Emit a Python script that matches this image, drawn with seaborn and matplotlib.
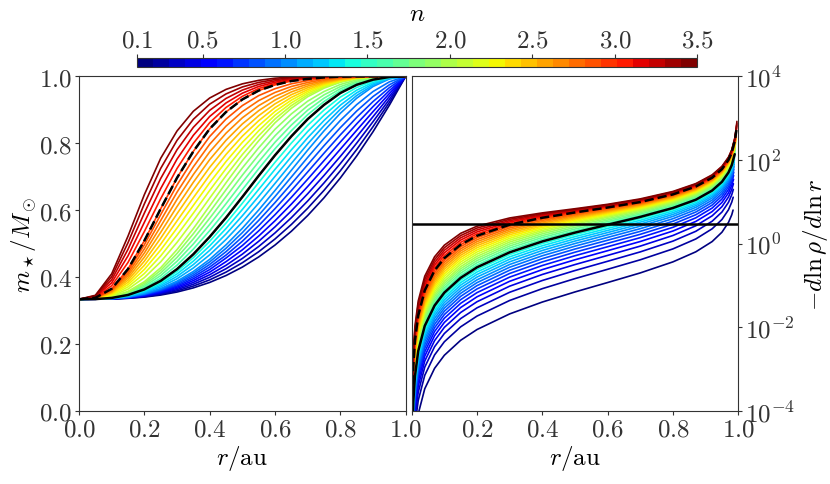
import matplotlib
matplotlib.use("Agg")
import matplotlib.pyplot as plt
import numpy as np
import pandas as pd
import seaborn as sns
from matplotlib.cm import ScalarMappable
from matplotlib.colors import ListedColormap, Normalize
from matplotlib.ticker import FuncFormatter, NullLocator

# %%
# values

n_values = [0.1, 0.2, 0.3, 0.4, 0.5, 0.6, 0.7, 0.8, 0.9, 1.0,
            1.1, 1.2, 1.3, 1.4, 1.5, 1.6, 1.7, 1.8, 1.9, 2.0,
            2.1, 2.2, 2.3, 2.4, 2.5, 2.6, 2.7, 2.8, 2.9, 3.0,
            3.1, 3.2, 3.3, 3.4, 3.5]
n_solid = 1.5
n_dashed = 3.0
cbar_ticks = [0.1, 0.5, 1.0, 1.5, 2.0, 2.5, 3.0, 3.5]

M_CORE = 0.3333  # m at r = 0, left panel

# left panel: envelope mass fraction (0 at r=0, 1 at r=1) per n
r_mass = [0.0, 0.05, 0.1, 0.15, 0.2, 0.25, 0.3, 0.35, 0.4, 0.45, 0.5,
          0.55, 0.6, 0.65, 0.7, 0.75, 0.8, 0.85, 0.9, 0.95, 1.0]
env_mass = [
    [0, .0002, .0012, .0041, .0097, .0189, .0324, .0511, .0755, .1064, .1443, .1898, .2432, .3050, .3756, .4552, .5442, .6429, .7515, .8705, 1],
    [0, .0002, .0015, .0049, .0115, .0222, .0378, .0592, .0870, .1217, .1637, .2132, .2704, .3354, .4082, .4886, .5765, .6717, .7741, .8835, 1],
    [0, .0002, .0017, .0056, .0132, .0254, .0433, .0674, .0985, .1370, .1830, .2366, .2976, .3658, .4408, .5219, .6087, .7004, .7966, .8966, 1],
    [0, .0002, .0019, .0064, .0149, .0287, .0487, .0756, .1100, .1523, .2023, .2600, .3248, .3963, .4734, .5553, .6409, .7292, .8191, .9097, 1],
    [0, .0003, .0021, .0071, .0167, .0320, .0541, .0838, .1216, .1686, .2217, .2834, .3521, .4267, .5060, .5886, .6732, .7580, .8417, .9228, 1],
    [0, .0003, .0024, .0079, .0184, .0352, .0595, .0920, .1331, .1849, .2410, .3068, .3793, .4571, .5386, .6220, .7054, .7867, .8642, .9359, 1],
    [0, .0003, .0026, .0086, .0201, .0385, .0649, .1002, .1446, .1981, .2603, .3302, .4065, .4875, .5712, .6553, .7376, .8155, .8867, .9490, 1],
    [0, .0004, .0028, .0094, .0218, .0418, .0704, .1083, .1561, .2134, .2796, .3536, .4337, .5179, .6038, .6887, .7698, .8443, .9092, .9620, 1],
    [0, .0004, .0030, .0101, .0236, .0450, .0758, .1165, .1676, .2287, .2990, .3770, .4609, .5483, .6364, .7220, .8021, .8730, .9318, .9751, 1],
    [0, .0004, .0033, .0109, .0253, .0483, .0812, .1247, .1791, .2440, .3183, .4004, .4881, .5787, .6690, .7554, .8343, .9018, .9543, .9882, 1],
    [0, .0005, .0038, .0126, .0291, .0552, .0920, .1402, .1993, .2684, .3464, .4311, .5197, .6092, .6968, .7787, .8524, .9138, .9604, .9900, 1],
    [0, .0005, .0043, .0142, .0329, .0620, .1028, .1556, .2195, .2928, .3746, .4618, .5513, .6396, .7246, .8020, .8706, .9259, .9666, .9917, 1],
    [0, .0006, .0048, .0159, .0367, .0689, .1137, .1711, .2396, .3172, .4027, .4926, .5828, .6701, .7524, .8254, .8887, .9379, .9727, .9935, 1],
    [0, .0007, .0054, .0176, .0405, .0757, .1245, .1865, .2598, .3416, .4309, .5233, .6144, .7005, .7802, .8487, .9069, .9500, .9789, .9952, 1],
    [0, .0007, .0059, .0193, .0443, .0826, .1353, .2020, .2800, .3660, .4590, .5540, .6460, .7310, .8080, .8720, .9250, .9620, .9850, .9970, 1],
    [0, .0009, .0069, .0225, .0512, .0943, .1528, .2250, .3078, .3973, .4915, .5854, .6751, .7561, .8281, .8870, .9346, .9675, .9875, .9976, 1],
    [0, .0010, .0079, .0257, .0581, .1061, .1703, .2480, .3356, .4286, .5240, .6167, .7043, .7812, .8482, .9019, .9442, .9730, .9900, .9982, 1],
    [0, .0011, .0090, .0290, .0649, .1178, .1878, .2710, .3634, .4599, .5566, .6481, .7334, .8063, .8684, .9169, .9539, .9784, .9925, .9987, 1],
    [0, .0013, .0100, .0322, .0718, .1296, .2053, .2940, .3912, .4912, .5891, .6794, .7626, .8314, .8885, .9318, .9635, .9839, .9950, .9993, 1],
    [0, .0014, .0110, .0354, .0787, .1413, .2228, .3170, .4190, .5225, .6216, .7108, .7917, .8565, .9086, .9468, .9731, .9894, .9975, .9999, 1],
    [0, .0019, .0146, .0454, .0971, .1678, .2550, .3516, .4536, .5543, .6491, .7333, .8087, .8687, .9166, .9516, .9756, .9904, .9978, .9999, 1],
    [0, .0024, .0182, .0555, .1155, .1942, .2872, .3863, .4881, .5860, .6765, .7558, .8257, .8810, .9246, .9564, .9782, .9915, .9980, .9999, 1],
    [0, .0029, .0219, .0655, .1339, .2207, .3193, .4209, .5227, .6178, .7040, .7784, .8426, .8932, .9325, .9613, .9807, .9925, .9983, .9999, 1],
    [0, .0034, .0255, .0756, .1523, .2471, .3515, .4556, .5572, .6495, .7315, .8009, .8596, .9054, .9405, .9661, .9833, .9935, .9985, .9999, 1],
    [0, .0040, .0291, .0856, .1707, .2736, .3837, .4902, .5918, .6813, .7590, .8234, .8766, .9177, .9485, .9709, .9858, .9946, .9988, 1.0, 1],
    [0, .0045, .0327, .0956, .1890, .3000, .4159, .5248, .6263, .7130, .7864, .8459, .8936, .9299, .9565, .9757, .9883, .9956, .9990, 1.0, 1],
    [0, .0050, .0363, .1057, .2074, .3265, .4481, .5595, .6609, .7448, .8139, .8684, .9106, .9421, .9645, .9805, .9909, .9966, .9993, 1.0, 1],
    [0, .0055, .0400, .1157, .2258, .3529, .4802, .5941, .6954, .7765, .8414, .8910, .9275, .9543, .9724, .9854, .9934, .9976, .9995, 1.0, 1],
    [0, .0060, .0436, .1258, .2442, .3794, .5124, .6288, .7300, .8083, .8688, .9135, .9445, .9666, .9804, .9902, .9960, .9987, .9998, 1.0, 1],
    [0, .0065, .0472, .1358, .2626, .4058, .5446, .6634, .7645, .8400, .8963, .9360, .9615, .9788, .9884, .9950, .9985, .9997, 1.0, 1.0, 1],
    [0, .0087, .0606, .1653, .3039, .4511, .5866, .6994, .7921, .8603, .9103, .9452, .9675, .9824, .9904, .9959, .9988, .9998, 1.0, 1.0, 1],
    [0, .0110, .0740, .1948, .3452, .4964, .6287, .7354, .8198, .8805, .9243, .9544, .9735, .9861, .9925, .9968, .9991, .9998, 1.0, 1.0, 1],
    [0, .0132, .0873, .2243, .3866, .5417, .6707, .7713, .8474, .9008, .9382, .9635, .9795, .9897, .9945, .9977, .9994, .9999, 1.0, 1.0, 1],
    [0, .0155, .1007, .2538, .4279, .5870, .7128, .8073, .8751, .9210, .9522, .9727, .9855, .9934, .9966, .9986, .9997, .9999, 1.0, 1.0, 1],
    [0, .0177, .1141, .2833, .4692, .6323, .7548, .8433, .9027, .9413, .9662, .9819, .9915, .9970, .9986, .9995, 1.0, 1.0, 1.0, 1.0, 1],
]

# right panel: -dln(rho)/dln(r) per n
r_slope = [0.001, 0.002, 0.005, 0.01, 0.02, 0.04, 0.07, 0.1, 0.15, 0.2, 0.3, 0.4,
           0.5, 0.6, 0.7, 0.8, 0.87, 0.92, 0.95, 0.97, 0.98, 0.99, 0.995]
slope = [
    [2.09e-7, 8.37e-7, 5.23e-6, 2.09e-5, 8.37e-5, 3.35e-4, 1.03e-3, 2.12e-3, 4.84e-3, 8.75e-3, .0207, .0398, .0694, .1166, .198, .364, .633, 1.114, 1.864, 3.20, 4.86, 9.86, 19.87],
    [4.38e-7, 1.75e-6, 1.095e-5, 4.38e-5, 1.752e-4, 7.02e-4, 2.156e-3, 4.46e-3, 1.016e-2, 1.836e-2, .0434, .0832, .1446, .2418, .408, .744, 1.286, 2.251, 3.754, 6.42, 9.76, 19.76, 39.8],
    [6.88e-7, 2.75e-6, 1.72e-5, 6.88e-5, 2.752e-4, 1.102e-3, 3.387e-3, 7.03e-3, 1.600e-2, 2.891e-2, .0682, .1304, .2258, .376, .631, 1.142, 1.961, 3.413, 5.67, 9.68, 14.67, 29.69, 59.7],
    [9.62e-7, 3.85e-6, 2.405e-5, 9.62e-5, 3.848e-4, 1.542e-3, 4.735e-3, 9.85e-3, 2.240e-2, 4.046e-2, .0954, .1818, .3136, .5196, .867, 1.557, 2.657, 4.599, 7.615, 12.96, 19.63, 39.64, 79.64],
    [1.263e-6, 5.05e-6, 3.16e-5, 1.263e-4, 5.05e-4, 2.024e-3, 6.215e-3, 1.294e-2, 2.941e-2, 5.308e-2, .1248, .2374, .4083, .6736, 1.117, 1.992, 3.376, 5.811, 9.585, 16.27, 24.6, 49.6, 99.6],
    [1.594e-6, 6.38e-6, 3.985e-5, 1.594e-4, 6.376e-4, 2.554e-3, 7.843e-3, 1.631e-2, 3.707e-2, 6.684e-2, .157, .2977, .5102, .8379, 1.382, 2.444, 4.117, 7.049, 11.58, 19.61, 29.6, 59.65, 119.7],
    [1.957e-6, 7.83e-6, 4.89e-5, 1.957e-4, 7.83e-4, 3.135e-3, 9.628e-3, 1.999e-2, 4.542e-2, 8.185e-2, .1919, .3629, .620, 1.013, 1.661, 2.917, 4.88, 8.312, 13.61, 22.97, 34.63, 69.67, 139.7],
    [2.357e-6, 9.43e-6, 5.89e-5, 2.357e-4, 9.43e-4, 3.776e-3, 1.159e-2, 2.400e-2, 5.450e-2, 9.820e-2, .2297, .4335, .7376, 1.200, 1.957, 3.410, 5.667, 9.598, 15.66, 26.37, 39.69, 79.75, 159.8],
    [2.8e-6, 1.12e-5, 7.0e-5, 2.8e-4, 1.12e-3, 4.485e-3, 1.377e-2, 2.836e-2, 6.439e-2, .1159, .2708, .5095, .8641, 1.400, 2.268, 3.924, 6.480, 10.91, 17.74, 29.79, 44.79, 89.84, 179.8],
    [3.29e-6, 1.316e-5, 8.22e-5, 3.29e-4, 1.316e-3, 5.27e-3, 1.617e-2, 3.312e-2, 7.514e-2, .1352, .3152, .5917, 1.0, 1.612, 2.598, 4.459, 7.317, 12.26, 19.85, 33.24, 49.9, 100.0, 200.0],
    [3.83e-6, 1.533e-5, 9.58e-5, 3.832e-4, 1.533e-3, 6.137e-3, 1.883e-2, 3.867e-2, 8.762e-2, .1575, .3655, .6822, 1.144, 1.829, 2.919, 4.962, 8.078, 13.51, 21.86, 36.58, 54.9, 110, 220],
    [4.435e-6, 1.774e-5, 1.109e-4, 4.435e-4, 1.774e-3, 7.102e-3, 2.179e-2, 4.477e-2, .1013, .1818, .4203, .7798, 1.297, 2.057, 3.252, 5.473, 8.841, 14.76, 23.87, 39.91, 59.93, 120, 240],
    [5.106e-6, 2.042e-5, 1.277e-4, 5.106e-4, 2.042e-3, 8.175e-3, 2.507e-2, 5.145e-2, .1163, .2084, .4799, .8853, 1.461, 2.297, 3.596, 5.998, 9.607, 16.0, 25.88, 43.26, 64.95, 130, 260],
    [5.848e-6, 2.339e-5, 1.462e-4, 5.848e-4, 2.339e-3, 9.362e-3, 2.870e-2, 5.884e-2, .1328, .2376, .5446, .9991, 1.636, 2.550, 3.957, 6.534, 10.38, 17.26, 27.9, 46.61, 69.97, 140, 280],
    [6.675e-6, 2.67e-5, 1.669e-4, 6.675e-4, 2.67e-3, 1.068e-2, 3.274e-2, 6.688e-2, .1509, .2696, .6153, 1.122, 1.823, 2.817, 4.329, 7.079, 11.16, 18.53, 29.93, 49.95, 75.0, 150, 300],
    [7.605e-6, 3.042e-5, 1.901e-4, 7.605e-4, 3.042e-3, 1.217e-2, 3.728e-2, 7.638e-2, .1720, .3063, .6942, 1.253, 2.015, 3.080, 4.689, 7.602, 11.96, 19.79, 31.94, 53.28, 80, 160, 320],
    [8.646e-6, 3.458e-5, 2.162e-4, 8.646e-4, 3.458e-3, 1.383e-2, 4.236e-2, 8.692e-2, .1953, .3469, .7796, 1.394, 2.219, 3.355, 5.055, 8.131, 12.77, 21.06, 33.95, 56.61, 85, 170, 340],
    [9.817e-6, 3.927e-5, 2.454e-4, 9.817e-4, 3.927e-3, 1.570e-2, 4.805e-2, 9.854e-2, .2209, .3915, .873, 1.546, 2.435, 3.641, 5.434, 8.669, 13.59, 22.34, 35.96, 59.94, 90, 180, 360],
    [1.1145e-5, 4.458e-5, 2.786e-4, 1.1145e-3, 4.458e-3, 1.782e-2, 5.450e-2, .1113, .2492, .4404, .9745, 1.710, 2.665, 3.941, 5.825, 9.211, 14.41, 23.62, 37.98, 63.27, 95, 190, 380],
    [1.263e-5, 5.053e-5, 3.158e-4, 1.263e-3, 5.053e-3, 2.019e-2, 6.170e-2, .1255, .2802, .494, 1.085, 1.884, 2.906, 4.252, 6.223, 9.759, 15.24, 24.9, 40.0, 66.6, 100, 200, 400],
    [1.433e-5, 5.733e-5, 3.583e-4, 1.433e-3, 5.733e-3, 2.290e-2, 6.993e-2, .1438, .3190, .5577, 1.203, 2.055, 3.126, 4.523, 6.570, 10.27, 16.02, 26.16, 42.01, 69.93, 105, 210, 420],
    [1.627e-5, 6.508e-5, 4.067e-4, 1.627e-3, 6.508e-3, 2.598e-2, 7.925e-2, .1642, .3621, .6283, 1.331, 2.236, 3.353, 4.802, 6.917, 10.78, 16.8, 27.41, 44.02, 73.26, 110, 220, 440],
    [1.848e-5, 7.393e-5, 4.621e-4, 1.848e-3, 7.393e-3, 2.950e-2, 8.989e-2, .1873, .4102, .7063, 1.471, 2.429, 3.590, 5.086, 7.269, 11.30, 17.59, 28.67, 46.03, 76.59, 115, 230, 460],
    [2.101e-5, 8.405e-5, 5.253e-4, 2.101e-3, 8.405e-3, 3.352e-2, .1020, .2131, .4640, .7923, 1.622, 2.633, 3.837, 5.377, 7.624, 11.82, 18.37, 29.93, 48.05, 79.92, 120, 240, 480],
    [2.39e-5, 9.559e-5, 5.975e-4, 2.39e-3, 9.559e-3, 3.809e-2, .1157, .2421, .5239, .8873, 1.785, 2.849, 4.094, 5.675, 7.983, 12.34, 19.15, 31.19, 50.06, 83.25, 125, 250, 500],
    [2.728e-5, 1.091e-4, 6.819e-4, 2.728e-3, 1.091e-2, 4.344e-2, .1317, .2747, .5905, .9924, 1.962, 3.077, 4.361, 5.980, 8.346, 12.86, 19.94, 32.45, 52.08, 86.58, 130, 260, 520],
    [3.122e-5, 1.249e-4, 7.806e-4, 3.122e-3, 1.249e-2, 4.967e-2, .1503, .3111, .6647, 1.108, 2.153, 3.320, 4.638, 6.292, 8.714, 13.38, 20.73, 33.71, 54.09, 89.91, 135, 270, 540],
    [3.582e-5, 1.433e-4, 8.955e-4, 3.582e-3, 1.433e-2, 5.691e-2, .1718, .3518, .7467, 1.236, 2.359, 3.577, 4.926, 6.611, 9.082, 13.91, 21.52, 34.97, 56.11, 93.24, 140, 280, 560],
    [4.122e-5, 1.649e-4, 1.031e-3, 4.122e-3, 1.649e-2, 6.540e-2, .1968, .3973, .8386, 1.376, 2.582, 3.848, 5.224, 6.937, 9.456, 14.44, 22.31, 36.24, 58.13, 96.57, 145, 290, 580],
    [4.757e-5, 1.903e-4, 1.189e-3, 4.754e-3, 1.898e-2, 7.534e-2, .2261, .4482, .9399, 1.531, 2.822, 4.134, 5.535, 7.272, 9.831, 14.97, 23.1, 37.5, 60.15, 99.9, 150, 300, 600],
    [5.522e-5, 2.209e-4, 1.380e-3, 5.519e-3, 2.202e-2, 8.726e-2, .2610, .5177, 1.067, 1.704, 3.045, 4.371, 5.778, 7.548, 10.20, 15.5, 23.9, 38.78, 62.19, 103.2, 155, 310, 620],
    [6.44e-5, 2.576e-4, 1.610e-3, 6.435e-3, 2.566e-2, .1015, .3022, .5973, 1.209, 1.896, 3.281, 4.614, 6.024, 7.824, 10.56, 16.02, 24.7, 40.06, 64.22, 106.6, 160, 320, 640],
    [7.56e-5, 3.024e-4, 1.890e-3, 7.554e-3, 3.010e-2, .1188, .3515, .6882, 1.369, 2.108, 3.533, 4.868, 6.277, 8.102, 10.94, 16.55, 25.5, 41.35, 66.26, 109.9, 165, 330, 660],
    [8.917e-5, 3.567e-4, 2.229e-3, 8.905e-3, 3.547e-2, .1396, .4099, .7925, 1.549, 2.341, 3.801, 5.131, 6.534, 8.385, 11.31, 17.08, 26.3, 42.64, 68.31, 113.2, 170, 340, 680],
    [1.061e-4, 4.244e-4, 2.651e-3, 1.059e-2, 4.215e-2, .1653, .4807, .9118, 1.752, 2.596, 4.085, 5.404, 6.794, 8.670, 11.69, 17.61, 27.13, 43.93, 70.35, 116.6, 175, 350, 700],
]
# where each curve stops near the surface, and its last value there
r_edge = [0.9840, 0.9844, 0.9848, 0.9851, 0.9855, 0.9858, 0.9862, 0.9865, 0.9869, 0.9873,
          0.9876, 0.9880, 0.9883, 0.9887, 0.9891, 0.9894, 0.9898, 0.9901, 0.9905, 0.9908,
          0.9912, 0.9915, 0.9919, 0.9922, 0.9925, 0.9929, 0.9932, 0.9935, 0.9939, 0.9942,
          0.9945, 0.9949, 0.9952, 0.9955, 0.9958]
slope_edge = [6.3, 12.8, 19.7, 26.9, 34.4, 42.3, 50.7, 59.5, 68.7, 78.5,
              88.9, 99.9, 111.6, 123.9, 137.0, 151.0, 166.0, 182.0, 199.3, 217.7,
              237.6, 259.1, 282.3, 307.5, 334.7, 364.7, 397.6, 433.7, 473.4, 517.3,
              566.5, 621.6, 683.9, 753.9, 834.4]
slope_ref = 3.0  # horizontal line, right panel

# %%
# long tables for seaborn

mass_rows = []
for n, q in zip(n_values, env_mass):
    for r, qq in zip(r_mass, q):
        mass_rows.append((n, r, M_CORE + (1 - M_CORE) * qq))
mass_df = pd.DataFrame(mass_rows, columns=["n", "r", "m"])

slope_rows = []
for n, d, rc, dc in zip(n_values, slope, r_edge, slope_edge):
    for r, v in zip(r_slope, d):
        if r < rc:
            slope_rows.append((n, r, v))
    slope_rows.append((n, rc, dc))
slope_df = pd.DataFrame(slope_rows, columns=["n", "r", "s"])

# %%
sns.set_style("ticks", {"axes.edgecolor": "0.2", "text.color": "k",
                        "axes.labelcolor": "k", "xtick.color": "0.2",
                        "ytick.color": "0.2"})
plt.rcParams["mathtext.fontset"] = "cm"
plt.rcParams["font.family"] = ["DejaVu Serif"]

colors = plt.cm.jet(np.linspace(0, 1, len(n_values)))
palette = {n: c for n, c in zip(n_values, colors)}

FS = 18
fmt1 = FuncFormatter(lambda v, p: f"${v:.1f}$")
fmt_log = FuncFormatter(lambda v, p: "$10^{%d}$" % int(round(np.log10(v))))

fig = plt.figure(figsize=(8.3, 4.85), dpi=100)
ax1 = fig.add_axes([0.0952, 0.1511, 0.3936, 0.6895])
ax2 = fig.add_axes([0.4960, 0.1511, 0.3935, 0.6895])
cax = fig.add_axes([0.1645, 0.8592, 0.6758, 0.0186])

# left: enclosed mass
sns.lineplot(data=mass_df, x="r", y="m", hue="n", palette=palette, legend=False,
             estimator=None, sort=False, lw=1.2, ax=ax1)
sub = mass_df[mass_df.n == n_solid]
ax1.plot(sub.r, sub.m, color="k", lw=1.8)
sub = mass_df[mass_df.n == n_dashed]
ax1.plot(sub.r, sub.m, color="k", lw=1.8, ls="--")

ax1.set_xlim(0, 1)
ax1.set_ylim(0, 1)
ax1.set_xticks([0, 0.2, 0.4, 0.6, 0.8, 1.0])
ax1.set_yticks([0, 0.2, 0.4, 0.6, 0.8, 1.0])
ax1.xaxis.set_major_formatter(fmt1)
ax1.yaxis.set_major_formatter(fmt1)
ax1.set_xlabel(r"$r/\mathrm{au}$", fontsize=FS, labelpad=2)
ax1.set_ylabel(r"$m_\star/M_\odot$", fontsize=FS, labelpad=0)

# right: logarithmic density slope
sns.lineplot(data=slope_df, x="r", y="s", hue="n", palette=palette, legend=False,
             estimator=None, sort=False, lw=1.2, ax=ax2)
sub = slope_df[slope_df.n == n_solid]
ax2.plot(sub.r, sub.s, color="k", lw=1.8)
sub = slope_df[slope_df.n == n_dashed]
ax2.plot(sub.r, sub.s, color="k", lw=1.8, ls="--")
ax2.axhline(slope_ref, color="k", lw=1.8)

ax2.set_yscale("log")
ax2.set_xlim(0, 1)
ax2.set_ylim(1e-4, 1e4)
ax2.set_xticks([0, 0.2, 0.4, 0.6, 0.8, 1.0])
ax2.set_xticklabels(["", "$0.2$", "$0.4$", "$0.6$", "$0.8$", "$1.0$"])
ax2.set_yticks([1e-4, 1e-2, 1e0, 1e2, 1e4])
ax2.yaxis.set_minor_locator(NullLocator())
ax2.yaxis.set_major_formatter(fmt_log)
ax2.yaxis.tick_right()
ax2.yaxis.set_label_position("right")
ax2.set_xlabel(r"$r/\mathrm{au}$", fontsize=FS, labelpad=2)
ax2.set_ylabel(r"$-d\ln\rho/d\ln r$", fontsize=FS, labelpad=4)

for ax in (ax1, ax2):
    ax.tick_params(labelsize=FS, length=3, width=0.8, pad=2)

# colour bar for n
sm = ScalarMappable(norm=Normalize(min(n_values), max(n_values)),
                    cmap=ListedColormap(colors))
cb = fig.colorbar(sm, cax=cax, orientation="horizontal")
cb.set_ticks(cbar_ticks)
cax.xaxis.set_ticks_position("top")
cax.xaxis.set_label_position("top")
cax.xaxis.set_major_formatter(fmt1)
cax.tick_params(labelsize=FS, length=3, width=0.8, pad=2)
cb.set_label("$n$", fontsize=FS, labelpad=6)
cb.outline.set_linewidth(0.8)

fig.savefig("out.png", dpi=100)
